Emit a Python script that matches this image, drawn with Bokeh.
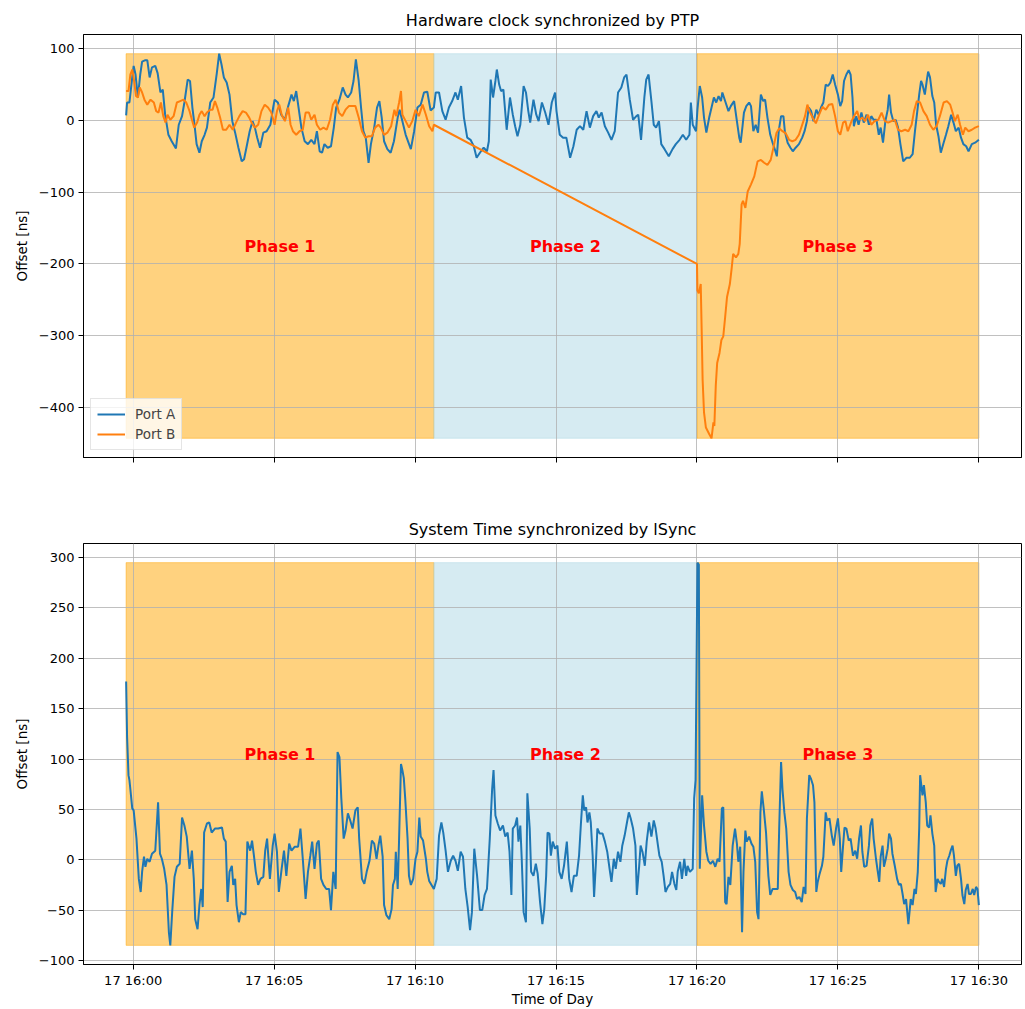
import pandas as pd
from bokeh.plotting import figure
from bokeh.models import (ColumnDataSource, Range1d, SingleIntervalTicker,
                          DatetimeTickFormatter, CustomJSTickFormatter, Legend, LegendItem)
from bokeh.layouts import column
from bokeh.core.properties import value
from bokeh.embed import file_html
from bokeh.resources import INLINE

# ---------------- data ----------------
BASE = pd.Timestamp("2023-11-17 16:00:00")
phase_names = ["Phase 1", "Phase 2", "Phase 3"]
phase_bounds_s = [-15, 640, 1200, 1800]          # seconds after 16:00:00
phase_colors = ["orange", "lightblue", "orange"]
title_top = "Hardware clock synchronized by PTP"
title_bottom = "System Time synchronized by lSync"
series_names = ["Port A", "Port B"]

# (seconds after 16:00:00, offset in ns)
hw_port_a = [(-15, 7), (-13, 25), (-8, 25), (-2, 60), (1, 76), (5, 64), (10, 32), (15, 64), (19, 82), (26, 84),
             (30, 84), (35, 60), (40, 74), (47, 76), (52, 66), (58, 39), (63, 43), (68, 8), (75, -20), (82, -29),
             (91, -39), (97, -6), (104, 6), (109, 25), (116, 57), (121, 55), (126, 18), (130, -3), (135, -33),
             (141, -45), (146, -29), (152, -20), (157, -10), (164, 25), (171, 32), (178, 66), (183, 93), (188, 78),
             (193, 60), (199, 53), (205, 36), (211, -1), (217, -17), (224, -38), (231, -57), (236, -54), (241, -38),
             (248, -15), (254, -1), (259, -10), (264, -24), (270, -38), (277, -17), (284, -15), (292, -6), (298, 18),
             (301, 29), (308, 25), (315, 8), (323, 1), (330, 20), (337, 36), (342, 27), (347, 41), (352, 18),
             (358, -10), (365, -29), (372, -33), (379, -27), (386, -33), (391, -15), (397, -43), (402, -45),
             (407, -33), (414, -38), (421, -36), (427, -10), (432, 18), (439, 29), (446, 46), (452, 36), (457, 32),
             (464, 39), (469, 55), (474, 85), (480, 55), (485, 18), (490, -15), (495, -24), (501, -59), (506, -33),
             (513, -10), (519, 18), (524, 27), (529, 4), (534, -29), (541, -40), (548, -45), (555, -29), (563, 4),
             (567, 15), (573, -1), (580, -20), (591, -40), (598, -15), (605, 18), (612, 22), (619, 39), (626, 40),
             (633, 14), (640, 18), (644, 39), (651, 39), (658, 13), (665, 1), (672, 18), (679, 27), (686, 39),
             (691, 29), (698, 48), (704, 4), (711, -24), (718, -27), (725, -36), (731, -52), (738, -45), (746, -38),
             (753, -43), (757, -29), (761, 57), (766, 32), (771, 55), (774, 71), (779, 50), (783, 41), (788, 43),
             (795, -13), (802, 32), (808, 8), (813, -8), (818, -22), (824, -6), (831, 48), (836, 39), (841, 13),
             (845, -3), (852, 29), (858, 8), (863, -1), (870, 25), (877, 11), (884, -6), (891, 25), (898, 39),
             (901, 13), (908, -20), (915, -24), (922, -24), (930, -52), (937, -36), (944, -13), (951, -8),
             (958, -13), (965, 13), (972, -10), (979, 6), (986, 13), (991, 4), (997, 11), (1004, -8), (1011, -17),
             (1018, -27), (1025, -15), (1032, 39), (1039, 46), (1045, 60), (1050, 64), (1057, 29), (1064, 1),
             (1071, 6), (1075, 8), (1081, -27), (1088, 32), (1092, 57), (1097, 64), (1103, 27), (1108, -6),
             (1113, -10), (1119, -1), (1124, -33), (1131, -40), (1140, -50), (1148, -40), (1155, -33), (1163, -27),
             (1170, -20), (1177, -27), (1184, -20), (1187, 25), (1191, -6), (1198, -15), (1201, 15), (1206, 48),
             (1211, 32), (1215, 4), (1220, -17), (1226, 4), (1231, 18), (1236, 32), (1241, 25), (1246, 34),
             (1251, 27), (1254, 39), (1261, 25), (1267, 13), (1272, 20), (1279, 27), (1285, -1), (1290, -24),
             (1293, -31), (1297, -8), (1300, 11), (1305, 20), (1311, 25), (1315, 20), (1320, -15), (1325, -6),
             (1330, -17), (1336, 36), (1341, 27), (1345, 29), (1350, 4), (1356, -20), (1361, -31), (1367, -43),
             (1370, -50), (1374, -15), (1379, 6), (1384, 6), (1387, -15), (1393, -31), (1399, -38), (1404, -43),
             (1410, -38), (1417, -33), (1424, -24), (1429, -15), (1434, -1), (1438, 18), (1443, 13), (1448, -1),
             (1454, 15), (1459, 8), (1464, 18), (1469, 25), (1474, 50), (1479, 48), (1484, 53), (1489, 64),
             (1494, 50), (1500, 36), (1505, 20), (1509, 27), (1513, 55), (1518, 64), (1523, 70), (1527, 64),
             (1531, 32), (1534, -8), (1539, 6), (1544, -6), (1550, 11), (1555, -3), (1561, 8), (1566, -6),
             (1571, 6), (1576, 1), (1582, 1), (1587, -20), (1591, -10), (1596, -31), (1601, -1), (1606, 15),
             (1609, 36), (1613, 11), (1618, -1), (1623, 1), (1628, -10), (1633, -33), (1639, -57), (1646, -52),
             (1653, -52), (1659, -47), (1664, -15), (1669, 13), (1673, 36), (1677, 55), (1680, 50), (1685, 36),
             (1689, 55), (1692, 68), (1696, 60), (1701, 34), (1705, 25), (1709, -6), (1714, -22), (1719, -45),
             (1725, -31), (1730, -20), (1735, -8), (1741, 8), (1746, -3), (1751, -15), (1757, -10), (1762, -24),
             (1767, -33), (1773, -36), (1778, -43), (1785, -33), (1792, -31), (1800, -27)]

hw_port_b = [(-15, 41), (-10, 41), (-6, 64), (-2, 71), (1, 60), (6, 34), (10, 32), (14, 46), (19, 39), (24, 29),
             (30, 22), (37, 29), (44, 25), (49, 13), (54, 11), (59, 25), (64, 6), (69, -3), (73, 8), (79, 1),
             (86, 6), (93, 25), (100, 27), (107, 29), (113, 25), (120, 13), (125, 1), (130, -10), (136, -3),
             (141, 8), (146, 13), (152, 6), (157, 11), (164, 15), (169, 15), (174, 27), (179, 18), (185, 4),
             (191, -13), (198, -13), (205, -6), (212, -13), (219, -3), (226, 6), (233, 13), (240, 11), (247, 4),
             (252, -3), (259, -10), (266, -6), (273, 13), (280, 22), (287, 18), (294, 11), (301, -6), (306, 13),
             (311, 22), (316, 8), (323, -1), (330, 18), (335, -6), (340, -15), (347, -20), (354, -15), (361, -13),
             (367, 11), (374, 11), (379, 1), (386, 8), (391, -6), (398, -13), (405, -10), (412, -13), (419, 1),
             (425, 22), (431, 29), (438, 11), (445, 6), (452, 15), (459, 20), (466, 20), (473, 20), (480, 4),
             (487, -15), (494, -24), (501, -22), (508, -22), (515, -10), (522, -6), (527, -10), (534, -20),
             (541, -17), (549, -8), (556, 15), (560, 6), (566, 25), (570, 41), (573, 8), (580, -1), (587, -10),
             (594, -1), (601, 15), (608, 6), (616, 22), (623, 8), (630, -8), (637, -15), (640, -6),
             (1200, -200), (1201, -237), (1204, -241), (1208, -228), (1210, -292), (1212, -361), (1215, -407),
             (1219, -428), (1226, -437), (1231, -443), (1235, -421), (1237, -426), (1240, -370), (1243, -338),
             (1248, -324), (1252, -306), (1256, -301), (1260, -274), (1264, -246), (1270, -228), (1274, -205),
             (1277, -186), (1283, -191), (1288, -186), (1291, -172), (1295, -117), (1298, -112), (1303, -122),
             (1308, -99), (1315, -89), (1322, -78), (1329, -57), (1336, -55), (1343, -59), (1350, -62),
             (1357, -55), (1364, -34), (1369, -18), (1375, -11), (1382, -15), (1389, -18), (1396, -27),
             (1403, -29), (1410, -27), (1417, -20), (1425, -4), (1430, 6), (1435, 22), (1440, 12), (1447, 3),
             (1453, -4), (1460, 8), (1467, 19), (1474, 15), (1481, 22), (1488, 23), (1494, 6), (1500, -15),
             (1505, -20), (1511, -3), (1516, -1), (1521, -15), (1529, -1), (1536, 8), (1541, 13), (1546, 1),
             (1552, 4), (1558, -1), (1564, 8), (1571, -6), (1578, -1), (1586, 1), (1593, 11), (1600, -1),
             (1607, -3), (1614, -1), (1621, 1), (1628, -13), (1635, -15), (1643, -13), (1650, -15), (1657, -6),
             (1662, 13), (1668, 27), (1675, 25), (1682, 13), (1689, 6), (1696, -6), (1703, -13), (1710, -8),
             (1717, 6), (1725, 25), (1732, 27), (1739, 22), (1744, 11), (1749, -1), (1755, 8), (1760, -6),
             (1766, -20), (1771, -10), (1778, -15), (1785, -13), (1792, -10), (1800, -8)]

sys_offset = [(-15, 177), (-13, 122), (-10, 84), (-8, 79), (-6, 70), (-2, 51), (1, 49), (7, 21), (12, -19),
              (16, -32), (19, -12), (23, 3), (26, -7), (30, 1), (35, -2), (40, 6), (47, 9), (53, 57), (57, 6),
              (61, 1), (66, -9), (71, -25), (76, -72), (79, -85), (83, -52), (88, -17), (93, -7), (99, -4),
              (104, 42), (109, 34), (114, 23), (120, -9), (125, 9), (129, -19), (132, -59), (137, -69), (141, -45),
              (145, -29), (148, -47), (151, 27), (157, 36), (162, 37), (167, 27), (174, 31), (181, 31), (189, 32),
              (193, 21), (197, 18), (201, -42), (205, -12), (210, -6), (213, -25), (217, -19), (220, -45),
              (225, -62), (229, -52), (234, -54), (239, -54), (243, 18), (249, 9), (253, 19), (257, 4), (261, -12),
              (266, -25), (271, -19), (277, -17), (281, 9), (285, 21), (291, -19), (297, 14), (301, 26), (306, 8),
              (310, -32), (316, -9), (321, 9), (326, -16), (332, 16), (337, 9), (344, 13), (351, 13), (356, 31),
              (361, 1), (367, -39), (372, -12), (377, 4), (381, 18), (386, -9), (391, 16), (395, 19), (400, -19),
              (405, -25), (411, -29), (417, -29), (421, -50), (426, -12), (431, -29), (435, 107), (439, 102),
              (443, 61), (448, 21), (452, 29), (457, 46), (462, 39), (467, 31), (473, 49), (478, 52), (481, 21),
              (487, -19), (492, -24), (497, -12), (503, -1), (508, 19), (513, 16), (518, 1), (522, 14), (526, 24),
              (531, 3), (534, -45), (539, -55), (545, -59), (550, -49), (553, -25), (557, -19), (559, 8),
              (563, -29), (566, 21), (570, 95), (573, 89), (576, 81), (579, 61), (584, 21), (587, -16), (591, -25),
              (596, -19), (601, 1), (605, 8), (609, 42), (612, 23), (617, 19), (623, 1), (626, -12), (630, -21),
              (635, -25), (640, -29), (646, -19), (651, 24), (656, 37), (660, 27), (665, 9), (670, -12), (676, -1),
              (681, 4), (686, -1), (691, -11), (697, 8), (702, 3), (707, -29), (712, -47), (717, -70), (721, -52),
              (726, 11), (732, -16), (738, -50), (743, -50), (748, -35), (753, -29), (759, 21), (764, 70),
              (767, 89), (771, 44), (776, 36), (781, 29), (787, 34), (792, 23), (797, 27), (801, 8), (805, -35),
              (808, 31), (813, 34), (817, 42), (820, 18), (824, 34), (827, 1), (831, -52), (836, -62), (839, 66),
              (844, 31), (847, -12), (852, -16), (857, -4), (861, -14), (866, -42), (871, -64), (875, -49),
              (879, -16), (882, 27), (886, 26), (889, 4), (893, 18), (898, 11), (903, 14), (907, -12), (912, -19),
              (917, -6), (923, 18), (928, -19), (933, -32), (938, -16), (944, -16), (949, 4), (953, 36), (957, 64),
              (960, 49), (964, 52), (967, 37), (971, 47), (974, 37), (978, 4), (981, -37), (985, -2), (988, 31),
              (993, 26), (999, 26), (1004, 18), (1009, 8), (1014, -9), (1018, -22), (1023, 1), (1027, -9),
              (1032, 8), (1037, -2), (1041, 14), (1046, 24), (1051, 37), (1055, 47), (1059, 41), (1064, 31),
              (1069, 14), (1072, -35), (1077, -6), (1080, 14), (1084, 8), (1089, -6), (1093, 18), (1098, 37),
              (1103, 23), (1108, 39), (1112, 31), (1117, 14), (1120, 4), (1125, -2), (1129, -16), (1133, -32),
              (1138, -27), (1143, -24), (1147, -12), (1152, -24), (1156, -30), (1159, -12), (1164, -2), (1168, -19),
              (1173, 1), (1177, -16), (1180, -6), (1185, -12), (1191, -9), (1194, 61), (1197, 79), (1201, 295),
              (1204, 293), (1206, -9), (1211, 64), (1215, 34), (1220, 8), (1224, -1), (1229, -4), (1234, -1),
              (1239, -7), (1244, 1), (1248, -2), (1253, 51), (1256, 52), (1260, -42), (1263, -44), (1267, -17),
              (1271, -25), (1276, 14), (1281, 31), (1285, 16), (1288, -2), (1292, 13), (1296, -72), (1299, -12),
              (1303, 29), (1306, 18), (1311, 23), (1316, 16), (1320, 13), (1324, -2), (1328, -52), (1331, -59),
              (1335, 47), (1338, 68), (1342, 51), (1347, 27), (1352, -16), (1356, -35), (1361, -29), (1367, -29),
              (1372, -29), (1375, 31), (1379, 97), (1382, 70), (1386, 47), (1390, 31), (1395, -12), (1399, -25),
              (1404, -30), (1409, -32), (1413, -39), (1418, -37), (1423, -42), (1427, -27), (1431, -34), (1434, 41),
              (1439, 84), (1443, 80), (1447, 74), (1450, 57), (1454, -32), (1457, -22), (1461, -14), (1466, -6),
              (1469, 3), (1474, 47), (1477, 39), (1482, 41), (1487, 24), (1491, 14), (1496, 31), (1500, 41),
              (1504, 21), (1507, -12), (1511, 14), (1514, 32), (1518, 31), (1523, 19), (1527, 21), (1532, 4),
              (1537, 9), (1541, 1), (1545, 21), (1549, 34), (1552, 8), (1556, -7), (1561, -6), (1566, 14),
              (1569, 34), (1573, 41), (1576, 21), (1581, 1), (1584, -9), (1588, -22), (1591, 3), (1595, 14),
              (1598, -7), (1602, 1), (1606, 11), (1609, 26), (1613, 21), (1616, 6), (1621, -6), (1626, -19),
              (1630, -25), (1634, -24), (1638, -35), (1641, -44), (1645, -39), (1650, -64), (1655, -39), (1659, -45),
              (1663, -29), (1666, -34), (1670, -12), (1673, 31), (1675, 84), (1680, 64), (1683, 74), (1687, 57),
              (1690, 34), (1694, 32), (1697, 44), (1701, 26), (1705, 14), (1708, -32), (1712, -19), (1715, -22),
              (1719, -24), (1722, -19), (1726, -27), (1730, -9), (1733, -1), (1737, 4), (1740, 9), (1744, 14),
              (1747, 4), (1751, -16), (1754, -6), (1758, -4), (1762, -19), (1765, -35), (1769, -44), (1772, -30),
              (1776, -24), (1779, -34), (1783, -34), (1787, -29), (1790, -35), (1794, -27), (1797, -29), (1800, -45)]

# ---------------- helpers ----------------
FONT = "DejaVu Sans"
C_A = "#1f77b4"
C_B = "#ff7f0e"
DT_FMT = "%d %H:%M"


def to_df(pairs):
    df = pd.DataFrame(pairs, columns=["s", "v"])
    df["t"] = BASE + pd.to_timedelta(df["s"], unit="s")
    return df


def ts(sec):
    return BASE + pd.Timedelta(seconds=sec)


df_a = to_df(hw_port_a)
df_b = to_df(hw_port_b)
df_s = to_df(sys_offset)

all_s = pd.concat([df_a["s"], df_b["s"], df_s["s"]])
s_min, s_max = all_s.min(), all_s.max()
pad = 0.05 * (s_max - s_min)
x_range = Range1d(start=ts(s_min - pad), end=ts(s_max + pad))

minus_fmt = CustomJSTickFormatter(code="return tick < 0 ? '\u2212' + Math.abs(tick) : '' + tick;")


def style(p, y_interval):
    p.outline_line_color = "black"
    p.outline_line_width = 1
    p.background_fill_color = "white"
    p.border_fill_color = "white"
    for ax in p.axis:
        ax.axis_line_color = "black"
        ax.axis_line_width = 1
        ax.major_tick_line_color = "black"
        ax.major_tick_out = 5
        ax.major_tick_in = 0
        ax.minor_tick_line_color = None
        ax.major_label_text_font = FONT
        ax.major_label_text_font_size = "13px"
        ax.major_label_text_color = "black"
        ax.axis_label_text_font = FONT
        ax.axis_label_text_font_size = "13.5px"
        ax.axis_label_text_font_style = "normal"
        ax.axis_label_text_color = "black"
        ax.major_label_standoff = 4
        ax.axis_label_standoff = 6
    p.xaxis.ticker = SingleIntervalTicker(interval=5 * 60 * 1000, num_minor_ticks=0)
    p.yaxis.ticker = SingleIntervalTicker(interval=y_interval, num_minor_ticks=0)
    p.yaxis.formatter = minus_fmt
    p.yaxis.axis_label = "Offset [ns]"
    for g in p.grid:
        g.grid_line_color = "#b0b0b0"
        g.grid_line_width = 0.8
        g.level = "underlay"
    p.title.text_font = FONT
    p.title.text_font_size = "16px"
    p.title.text_font_style = "normal"
    p.title.text_color = "black"
    p.title.align = "center"


def add_phases(p, vmin, vmax):
    for i, name in enumerate(phase_names):
        left, right = ts(phase_bounds_s[i]), ts(phase_bounds_s[i + 1])
        p.quad(left=[left], right=[right], bottom=[vmin], top=[vmax],
               fill_color=phase_colors[i], fill_alpha=0.5,
               line_color=phase_colors[i], line_alpha=0.5, line_width=1, level="image")
    src = ColumnDataSource(dict(
        x=[ts((phase_bounds_s[i] + phase_bounds_s[i + 1]) / 2) for i in range(len(phase_names))],
        y=[(vmin + vmax) / 2] * len(phase_names),
        text=phase_names))
    p.text(x="x", y="y", text="text", source=src, text_align="center", text_baseline="middle",
           text_color="red", text_font_style="bold", text_font_size="16px", text_font=value(FONT))


# ---------------- top plot ----------------
top_min = min(df_a["v"].min(), df_b["v"].min())
top_max = max(df_a["v"].max(), df_b["v"].max())
tpad = 0.05 * (top_max - top_min)
p1 = figure(width=1022, height=488, x_axis_type="datetime", x_range=x_range,
            y_range=Range1d(top_min - tpad, top_max + tpad),
            title=title_top, toolbar_location=None, output_backend="svg",
            min_border_left=83, min_border_right=1, min_border_top=34, min_border_bottom=31)
style(p1, 100)
p1.title.standoff = 10
p1.xaxis.formatter = CustomJSTickFormatter(code="return '';")
add_phases(p1, top_min, top_max)
ra = p1.line(df_a["t"], df_a["v"], line_color=C_A, line_width=2)
rb = p1.line(df_b["t"], df_b["v"], line_color=C_B, line_width=2)
leg = Legend(items=[LegendItem(label=series_names[0], renderers=[ra]),
                    LegendItem(label=series_names[1], renderers=[rb])],
             location="bottom_left")
leg.margin = 7
leg.padding = 6
leg.spacing = 2
leg.label_text_font = FONT
leg.label_text_font_size = "13.5px"
leg.label_height = 18
leg.glyph_height = 18
leg.glyph_width = 28
leg.label_standoff = 10
leg.border_line_color = "#cccccc"
leg.background_fill_alpha = 0.8
p1.add_layout(leg)

# ---------------- bottom plot ----------------
bot_min, bot_max = df_s["v"].min(), df_s["v"].max()
bpad = 0.05 * (bot_max - bot_min)
p2 = figure(width=1022, height=521, x_axis_type="datetime", x_range=x_range,
            y_range=Range1d(bot_min - bpad, bot_max + bpad),
            title=title_bottom, toolbar_location=None, output_backend="svg",
            min_border_left=83, min_border_right=1, min_border_top=55, min_border_bottom=40)
style(p2, 50)
p2.title.standoff = 10
p2.xaxis.formatter = DatetimeTickFormatter(seconds=DT_FMT, minsec=DT_FMT, minutes=DT_FMT, hourmin=DT_FMT,
                                           hours=DT_FMT, days=DT_FMT, context=None)
p2.xaxis.axis_label = "Time of Day"
p2.xaxis.axis_label_standoff = 0
p2.xaxis.major_label_standoff = 3
add_phases(p2, bot_min, bot_max)
p2.line(df_s["t"], df_s["v"], line_color=C_A, line_width=2)

layout = column(p1, p2, spacing=0)
open("out.html", "w").write(file_html(layout, INLINE))
